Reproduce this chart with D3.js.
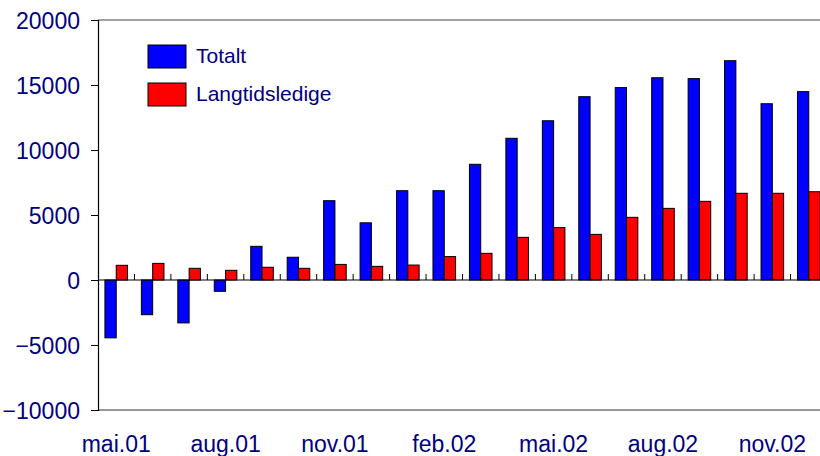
<!DOCTYPE html>
<html>
<head>
<meta charset="utf-8">
<script src="https://cdn.jsdelivr.net/npm/d3@7"></script>
<style>
  body { margin: 0; background: #fff; }
  text { font-family: "Liberation Sans", Arial, sans-serif; fill: #000080; }
</style>
</head>
<body>
<div id="chart"></div>
<script>
// months shown on the x axis (only every 3rd gets a label)
var months = ["mai.01", "jun.01", "jul.01", "aug.01", "sep.01", "okt.01", "nov.01", "des.01",
    "jan.02", "feb.02", "mar.02", "apr.02", "mai.02", "jun.02", "jul.02", "aug.02",
    "sep.02", "okt.02", "nov.02", "des.02"];
var seriesNames = ["Totalt", "Langtidsledige"];
var totalt = [-4450, -2670, -3300, -870, 2590, 1750, 6100, 4400, 6870, 6870,
    8900, 10900, 12250, 14100, 14800, 15560, 15490, 16870, 13560, 14490];
var langtid = [1130, 1280, 900, 745, 980, 900, 1200, 1050, 1150, 1800,
    2050, 3280, 4030, 3510, 4820, 5510, 6050, 6670, 6670, 6790];
var yTicks = [-10000, -5000, 0, 5000, 10000, 15000, 20000];
var xLabels = ["mai.01", "aug.01", "nov.01", "feb.02", "mai.02", "aug.02", "nov.02"];
var colors = {"Totalt": "#0000ff", "Langtidsledige": "#ff0000"};

var width = 820, height = 456;
// note: "top" is taken by window.top, so prefix the plot edges
var plotLeft = 98, plotRight = 827, plotTop = 20, plotBottom = 410;

var svg = d3.select("#chart").append("svg")
    .attr("width", width)
    .attr("height", height);

var x0 = d3.scaleBand().domain(months).range([plotLeft, plotRight]).padding(0);
var x1 = d3.scaleBand().domain(seriesNames).range([0, x0.bandwidth()])
    .paddingInner(0).paddingOuter(0.613);
var y = d3.scaleLinear().domain([-10000, 20000]).range([plotBottom, plotTop]);

// plot frame
svg.append("line").attr("x1", plotLeft).attr("x2", width).attr("y1", plotTop).attr("y2", plotTop)
    .attr("stroke", "#808080").attr("stroke-width", 1.5);
svg.append("line").attr("x1", plotLeft).attr("x2", width).attr("y1", plotBottom).attr("y2", plotBottom)
    .attr("stroke", "#333").attr("stroke-width", 1.2);

// bars
var data = months.map(function (m, i) {
    return {month: m, values: [{key: "Totalt", v: totalt[i]}, {key: "Langtidsledige", v: langtid[i]}]};
});

var groups = svg.selectAll("g.month")
    .data(data)
    .enter()
    .append("g")
    .attr("class", "month")
    .attr("transform", function (d) { return "translate(" + x0(d.month) + ",0)"; });

groups.selectAll("rect")
    .data(function (d) { return d.values; })
    .enter()
    .append("rect")
    .attr("x", function (d) { return x1(d.key); })
    .attr("width", x1.bandwidth())
    .attr("y", function (d) { return y(Math.max(0, d.v)); })
    .attr("height", function (d) { return Math.abs(y(d.v) - y(0)); })
    .attr("fill", function (d) { return colors[d.key]; })
    .attr("stroke", "#000")
    .attr("stroke-width", 1);

// zero line with small category ticks pointing up
svg.append("line").attr("x1", plotLeft).attr("x2", width).attr("y1", y(0)).attr("y2", y(0))
    .attr("stroke", "#000").attr("stroke-width", 1.2);
svg.selectAll("line.cat")
    .data(months.slice(1))
    .enter()
    .append("line")
    .attr("class", "cat")
    .attr("x1", function (d) { return x0(d); })
    .attr("x2", function (d) { return x0(d); })
    .attr("y1", y(0))
    .attr("y2", y(0) - 6)
    .attr("stroke", "#000");

// y axis
var yAxis = d3.axisLeft(y).tickValues(yTicks).tickSize(7).tickPadding(11)
    .tickFormat(d3.format("d"));
var gy = svg.append("g").attr("transform", "translate(" + plotLeft + ",0)").call(yAxis);
gy.select(".domain").attr("stroke", "#000").attr("stroke-width", 1.2);
gy.selectAll(".tick line").attr("stroke", "#000");
gy.selectAll(".tick text")
    .attr("font-size", 23)
    .attr("dy", "0.36em")
    .style("fill", "#000080");

// x labels
var xAxis = d3.axisBottom(x0).tickValues(xLabels).tickSize(0).tickPadding(0);
var gx = svg.append("g").attr("transform", "translate(0," + plotBottom + ")").call(xAxis);
gx.select(".domain").remove();
gx.selectAll(".tick text")
    .attr("font-size", 23)
    .attr("y", 42)
    .attr("dy", 0)
    .style("fill", "#000080");

// legend
var legend = svg.selectAll("g.legend")
    .data(seriesNames)
    .enter()
    .append("g")
    .attr("class", "legend")
    .attr("transform", function (d, i) { return "translate(148," + (45 + i * 38) + ")"; });
legend.append("rect")
    .attr("width", 38).attr("height", 23)
    .attr("fill", function (d) { return colors[d]; })
    .attr("stroke", "#000");
legend.append("text")
    .attr("x", 48).attr("y", 18)
    .attr("font-size", 21)
    .text(function (d) { return d; });
</script>
</body>
</html>
